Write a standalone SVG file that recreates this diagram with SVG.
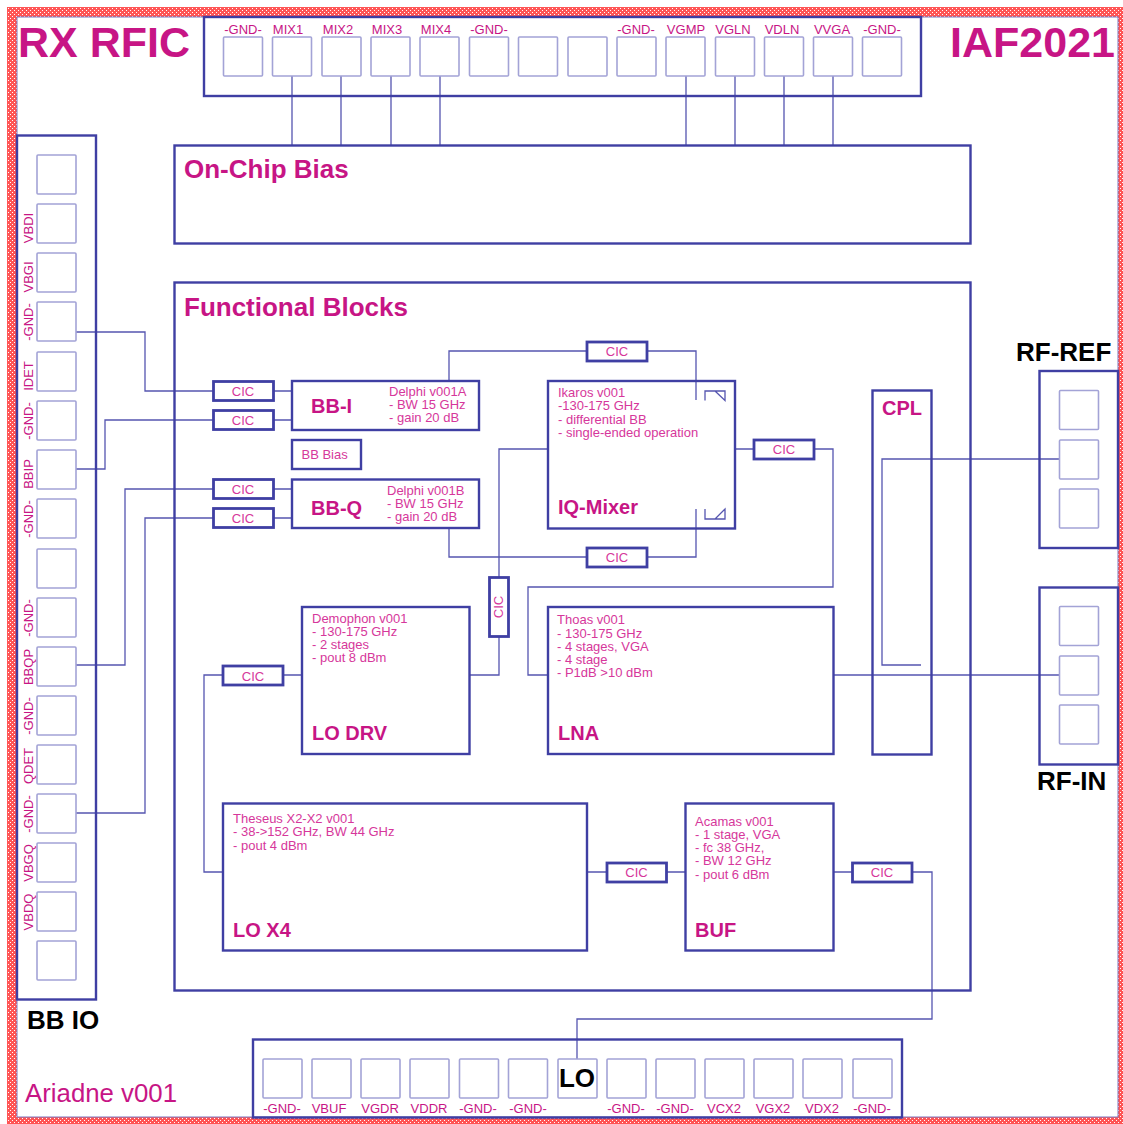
<svg xmlns="http://www.w3.org/2000/svg" width="1123" height="1124" viewBox="0 0 1123 1124">
<style>
text{font-family:"Liberation Sans",Arial,sans-serif;fill:#c71585}
.b{fill:none;stroke:#3f3fa3;stroke-width:2.4}
.f{fill:#fff;stroke:#3f3fa3;stroke-width:2.8}
.p{fill:none;stroke:#a3a3d6;stroke-width:1.6}
.c{fill:none;stroke:#5555b0;stroke-width:1.3}
.l{font-size:13px;fill:#d6379b}
.d{font-size:13px;fill:#d6379b}
.h{font-size:20px;font-weight:bold}
.t{font-size:26px;font-weight:bold}
.k{font-size:26px;font-weight:bold;fill:#000}
.cic{font-size:13px;fill:#d6379b;text-anchor:middle}
.m{text-anchor:middle}
</style>
<defs>
<pattern id="hatch" width="4" height="4" patternUnits="userSpaceOnUse">
<rect width="4" height="4" fill="#ff5555"/>
<rect width="1" height="1" fill="#fff"/><rect x="2" y="2" width="1" height="1" fill="#fff"/>
</pattern>
<rect id="pad" width="39" height="39" rx="1"/>
</defs>
<rect width="1123" height="1124" fill="#fff"/>
<path id="seal" fill="url(#hatch)" fill-rule="evenodd" d="M7 7H1123V1124H7ZM17 17V1117H1118V17Z"/>
<rect x="17" y="17" width="1101" height="1100" fill="none" stroke="#7a7ac0" stroke-width="1"/>

<g id="connectors" class="c">
<path d="M76 332H145V391H213M273 391H292"/>
<path d="M76 469H105V420H213M273 420H292"/>
<path d="M76 665H125V489H213M273 489H292"/>
<path d="M76 813H145V518H213M273 518H292"/>
<path d="M449 381V351H587M647 351H696V400"/>
<path d="M449 528V557H587M647 557H696V509"/>
<path d="M548 449H499V577M499 636V675H469"/>
<path d="M735 449H754M814 449H833V587H528V675H548"/>
<path d="M302 675H283M223 675H204V872H223"/>
<path d="M587 872H607M666 872H685"/>
<path d="M833 872H852M912 872H932V1019H577V1059"/>
<path d="M292 76V145M341 76V145M391 76V145M440 76V145M686 76V145M735 76V145M784 76V145M833 76V145"/>
<path d="M1059 459H882V665H921"/>
<path d="M833 675H1059"/>
</g>

<g id="top-io">
<rect class="b" x="204" y="17" width="717" height="79"/>
<g class="p">
<use href="#pad" x="223.500" y="37"/><use href="#pad" x="272.500" y="37"/><use href="#pad" x="322" y="37"/><use href="#pad" x="371" y="37"/><use href="#pad" x="420" y="37"/><use href="#pad" x="469.500" y="37"/><use href="#pad" x="518.500" y="37"/><use href="#pad" x="568" y="37"/><use href="#pad" x="617" y="37"/><use href="#pad" x="666" y="37"/><use href="#pad" x="715.500" y="37"/><use href="#pad" x="764.500" y="37"/><use href="#pad" x="813.500" y="37"/><use href="#pad" x="862.500" y="37"/>
</g>
<g class="l m">
<text x="243" y="34">-GND-</text><text x="288" y="34">MIX1</text><text x="338" y="34">MIX2</text><text x="387" y="34">MIX3</text><text x="436" y="34">MIX4</text><text x="489" y="34">-GND-</text><text x="636" y="34">-GND-</text><text x="686" y="34">VGMP</text><text x="733" y="34">VGLN</text><text x="782" y="34">VDLN</text><text x="832" y="34">VVGA</text><text x="882" y="34">-GND-</text>
</g>
</g>

<g id="bb-io">
<rect class="b" x="17" y="135.500" width="79" height="864"/>
<g class="p">
<use href="#pad" x="37" y="155"/><use href="#pad" x="37" y="204"/><use href="#pad" x="37" y="253"/><use href="#pad" x="37" y="302"/><use href="#pad" x="37" y="352"/><use href="#pad" x="37" y="401"/><use href="#pad" x="37" y="450"/><use href="#pad" x="37" y="499"/><use href="#pad" x="37" y="549"/><use href="#pad" x="37" y="598"/><use href="#pad" x="37" y="647"/><use href="#pad" x="37" y="696"/><use href="#pad" x="37" y="745"/><use href="#pad" x="37" y="794"/><use href="#pad" x="37" y="843"/><use href="#pad" x="37" y="892"/><use href="#pad" x="37" y="941"/>
</g>
<g class="l m">
<text transform="translate(33 228) rotate(-90)">VBDI</text>
<text transform="translate(33 277) rotate(-90)">VBGI</text>
<text transform="translate(33 322) rotate(-90)">-GND-</text>
<text transform="translate(33 376) rotate(-90)">IDET</text>
<text transform="translate(33 421) rotate(-90)">-GND-</text>
<text transform="translate(33 474) rotate(-90)">BBIP</text>
<text transform="translate(33 519) rotate(-90)">-GND-</text>
<text transform="translate(33 618) rotate(-90)">-GND-</text>
<text transform="translate(33 667) rotate(-90)">BBQP</text>
<text transform="translate(33 716) rotate(-90)">-GND-</text>
<text transform="translate(33 766) rotate(-90)">QDET</text>
<text transform="translate(33 814) rotate(-90)">-GND-</text>
<text transform="translate(33 863) rotate(-90)">VBGQ</text>
<text transform="translate(33 912) rotate(-90)">VBDQ</text>
</g>
</g>

<g id="bottom-io">
<rect class="b" x="253" y="1039.500" width="649" height="78"/>
<g class="p">
<use href="#pad" x="263" y="1059"/><use href="#pad" x="312" y="1059"/><use href="#pad" x="361" y="1059"/><use href="#pad" x="410" y="1059"/><use href="#pad" x="459.500" y="1059"/><use href="#pad" x="508.500" y="1059"/><use href="#pad" x="558" y="1059"/><use href="#pad" x="607" y="1059"/><use href="#pad" x="656" y="1059"/><use href="#pad" x="705" y="1059"/><use href="#pad" x="754" y="1059"/><use href="#pad" x="803" y="1059"/><use href="#pad" x="853" y="1059"/>
</g>
<g class="l m">
<text x="282" y="1113">-GND-</text><text x="329" y="1113">VBUF</text><text x="380" y="1113">VGDR</text><text x="429" y="1113">VDDR</text><text x="478" y="1113">-GND-</text><text x="528" y="1113">-GND-</text><text x="626" y="1113">-GND-</text><text x="675" y="1113">-GND-</text><text x="724" y="1113">VCX2</text><text x="773" y="1113">VGX2</text><text x="822" y="1113">VDX2</text><text x="872" y="1113">-GND-</text>
</g>
<text class="k m" x="577" y="1087">LO</text>
</g>

<g id="rf-ref">
<rect class="b" x="1039.500" y="371" width="78.500" height="177"/>
<g class="p"><use href="#pad" x="1059.500" y="390.500"/><use href="#pad" x="1059.500" y="440"/><use href="#pad" x="1059.500" y="489"/></g>
<text class="k" x="1016" y="361">RF-REF</text>
</g>
<g id="rf-in">
<rect class="b" x="1039.500" y="587.500" width="78.500" height="177"/>
<g class="p"><use href="#pad" x="1059.500" y="606.500"/><use href="#pad" x="1059.500" y="656"/><use href="#pad" x="1059.500" y="705"/></g>
<text class="k" x="1037" y="790">RF-IN</text>
</g>

<g id="on-chip-bias">
<rect class="b" x="174.500" y="145.500" width="796" height="98"/>
<text class="t" x="184" y="178">On-Chip Bias</text>
</g>
<g id="functional-blocks">
<rect class="b" x="174.500" y="282.500" width="796" height="708"/>
<text class="t" x="184" y="316">Functional Blocks</text>
</g>

<g id="cpl">
<rect class="b" x="872.500" y="390.500" width="59" height="364"/>
<text class="h" x="882" y="415">CPL</text>
</g>

<g id="bb-i">
<rect class="b" x="292" y="381" width="187" height="49"/>
<text class="h" x="311" y="413">BB-I</text>
<text class="d" x="389" y="396">Delphi v001A</text><text class="d" x="389" y="409">- BW 15 GHz</text><text class="d" x="389" y="422">- gain 20 dB</text>
</g>
<g id="bb-bias">
<rect class="b" x="292" y="440" width="69" height="29"/>
<text class="d" x="301.500" y="459">BB Bias</text>
</g>
<g id="bb-q">
<rect class="b" x="292" y="479.500" width="187" height="48.500"/>
<text class="h" x="311" y="515">BB-Q</text>
<text class="d" x="387" y="495">Delphi v001B</text><text class="d" x="387" y="508">- BW 15 GHz</text><text class="d" x="387" y="521">- gain 20 dB</text>
</g>
<g id="iq-mixer">
<rect class="b" x="548" y="381" width="187" height="147.500"/>
<text class="d" x="558" y="397">Ikaros v001</text><text class="d" x="558" y="410">-130-175 GHz</text><text class="d" x="558" y="424">- differential BB</text><text class="d" x="558" y="437">- single-ended operation</text>
<text class="h" x="558" y="514">IQ-Mixer</text>
<path class="c" d="M705 400.500V391H725V400.500L715 391"/>
<path class="c" d="M705 509V519H725V509L715 519"/>
</g>
<g id="lo-drv">
<rect class="b" x="302" y="607" width="167.500" height="147"/>
<text class="d" x="312" y="623">Demophon v001</text><text class="d" x="312" y="636">- 130-175 GHz</text><text class="d" x="312" y="649">- 2 stages</text><text class="d" x="312" y="662">- pout 8 dBm</text>
<text class="h" x="312" y="740">LO DRV</text>
</g>
<g id="lna">
<rect class="b" x="548" y="607" width="285.500" height="147"/>
<text class="d" x="557" y="624">Thoas v001</text><text class="d" x="557" y="638">- 130-175 GHz</text><text class="d" x="557" y="651">- 4 stages, VGA</text><text class="d" x="557" y="664">- 4 stage</text><text class="d" x="557" y="677">- P1dB &gt;10 dBm</text>
<text class="h" x="558" y="740">LNA</text>
</g>
<g id="lo-x4">
<rect class="b" x="223" y="803.500" width="364" height="147"/>
<text class="d" x="233" y="823">Theseus X2-X2 v001</text><text class="d" x="233" y="836">- 38-&gt;152 GHz, BW 44 GHz</text><text class="d" x="233" y="850">- pout 4 dBm</text>
<text class="h" x="233" y="937">LO X4</text>
</g>
<g id="buf">
<rect class="b" x="685.500" y="803.500" width="148" height="147"/>
<text class="d" x="695" y="826">Acamas v001</text><text class="d" x="695" y="839">- 1 stage, VGA</text><text class="d" x="695" y="852">- fc 38 GHz,</text><text class="d" x="695" y="865">- BW 12 GHz</text><text class="d" x="695" y="879">- pout 6 dBm</text>
<text class="h" x="695" y="937">BUF</text>
</g>

<g id="cic-1"><rect class="f" x="213.500" y="381.500" width="60" height="19"/><text class="cic" x="243" y="396">CIC</text></g>
<g id="cic-2"><rect class="f" x="213.500" y="410.500" width="60" height="19"/><text class="cic" x="243" y="425">CIC</text></g>
<g id="cic-3"><rect class="f" x="213.500" y="479.500" width="60" height="19"/><text class="cic" x="243" y="494">CIC</text></g>
<g id="cic-4"><rect class="f" x="213.500" y="508.500" width="60" height="19"/><text class="cic" x="243" y="523">CIC</text></g>
<g id="cic-5"><rect class="f" x="587" y="342" width="60" height="19"/><text class="cic" x="617" y="356">CIC</text></g>
<g id="cic-6"><rect class="f" x="587" y="548" width="60" height="19"/><text class="cic" x="617" y="562">CIC</text></g>
<g id="cic-7"><rect class="f" x="754" y="440" width="60" height="19"/><text class="cic" x="784" y="454">CIC</text></g>
<g id="cic-8"><rect class="f" x="489.500" y="577.500" width="19" height="59"/><text class="cic" transform="translate(503 607) rotate(-90)">CIC</text></g>
<g id="cic-9"><rect class="f" x="223" y="666" width="60" height="19"/><text class="cic" x="253" y="681">CIC</text></g>
<g id="cic-10"><rect class="f" x="607" y="863" width="59.500" height="19"/><text class="cic" x="636.500" y="877">CIC</text></g>
<g id="cic-11"><rect class="f" x="852.500" y="863" width="59.500" height="19"/><text class="cic" x="882" y="877">CIC</text></g>

<text x="18" y="57" font-size="43" font-weight="bold">RX RFIC</text>
<text x="1115" y="57" font-size="43" font-weight="bold" text-anchor="end">IAF2021</text>
<text class="k" x="27" y="1029">BB IO</text>
<text x="25" y="1102" font-size="25.800" fill="#c71585">Ariadne v001</text>
</svg>
